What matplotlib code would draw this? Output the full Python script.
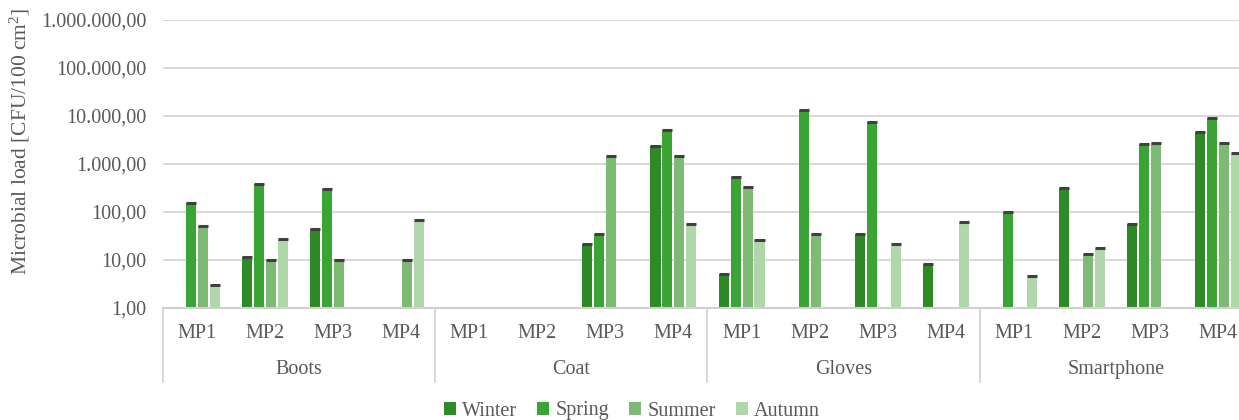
import numpy as np
import matplotlib
matplotlib.use("Agg")
import matplotlib.pyplot as plt
from matplotlib.ticker import FuncFormatter, FixedLocator, NullLocator
import matplotlib.transforms as mtransforms

# Data: microbial load per item, measuring point and season (nan = not detected)
items = ["Boots", "Coat", "Gloves", "Smartphone"]
points = ["MP1", "MP2", "MP3", "MP4"]
seasons = ["Winter", "Spring", "Summer", "Autumn"]
nan = np.nan

winter = [nan, 11.5, 45, nan,     nan, nan, 21.5, 2400,    5.1, nan, 35, 8.3,      nan, 315, 56, 4600]
spring = [155, 380, 300, nan,     nan, nan, 35, 5000,      540, 13200, 7500, nan,  100, nan, 2600, 9000]
summer = [51, 10, 10, 10,         nan, nan, 1480, 1480,    330, 35, nan, nan,      nan, 13.3, 2750, 2750]
autumn = [3.0, 27, nan, 68,       nan, nan, nan, 56,       26, nan, 21.5, 62,      4.6, 18, nan, 1720]

series = [winter, spring, summer, autumn]
colors = ["#2d8a27", "#3aa434", "#7dbb75", "#b0d7a9"]

plt.rcParams["font.family"] = ["Liberation Serif", "DejaVu Serif"]
plt.rcParams["mathtext.fontset"] = "custom"
plt.rcParams["mathtext.rm"] = "Liberation Serif"
text_color = "#595959"
fs = 14.5

fig = plt.figure(figsize=(12.39, 4.2), dpi=100)
ax = fig.add_axes([163 / 1239, 1 - 308 / 420, (1252 - 163) / 1239, (308 - 20) / 420])

n = len(items) * len(points)
x = np.arange(n)
width = 0.147
step = 0.176
offsets = (np.arange(4) - 1.5) * step

for vals, off, col, name in zip(series, offsets, colors, seasons):
    v = np.array(vals, dtype=float)
    m = ~np.isnan(v)
    ax.bar(x[m] + off, v[m] - 1, bottom=1, width=width, color=col, label=name, zorder=2)
    ax.hlines(v[m], x[m] + off - width / 2, x[m] + off + width / 2,
              color="#404040", lw=2.2, zorder=3)

ax.set_yscale("log")
ax.set_ylim(1, 1e6)
ax.set_xlim(-0.5, n - 0.5)


def eu_fmt(val, pos):
    s = f"{val:,.2f}"
    return s.replace(",", "X").replace(".", ",").replace("X", ".")


ax.yaxis.set_major_locator(FixedLocator([10.0 ** k for k in range(7)]))
ax.yaxis.set_minor_locator(NullLocator())
ax.yaxis.set_major_formatter(FuncFormatter(eu_fmt))
ax.tick_params(axis="y", length=0, pad=12, labelsize=fs, labelcolor=text_color)
ax.tick_params(axis="x", length=0, labelbottom=False)
ax.set_xticks([])

ax.grid(axis="y", color="#d9d9d9", lw=1.5, zorder=0)
for side in ["top", "right", "left"]:
    ax.spines[side].set_visible(False)
ax.spines["bottom"].set_color("#d0d0d0")
ax.spines["bottom"].set_linewidth(1.5)

fig.text(20 / 1239, 1 - 141 / 420, r"Microbial load [CFU/100 cm$\mathregular{^{2}}$]",
         rotation=90, ha="center", va="center", fontsize=15.5, color=text_color)

# Two-level category axis
trans = mtransforms.blended_transform_factory(ax.transData, ax.transAxes)
for i in range(n):
    ax.text(x[i], -0.087, points[i % 4], transform=trans, ha="center", va="center",
            fontsize=fs, color=text_color)
for g, item in enumerate(items):
    ax.text(g * 4 + 1.5, -0.215, item, transform=trans, ha="center", va="center",
            fontsize=fs, color=text_color)
for b in range(len(items) + 1):
    ax.plot([b * 4 - 0.5, b * 4 - 0.5], [0, -0.257], transform=trans, color="#d0d0d0",
            lw=1.2, clip_on=False)

leg = fig.legend(loc="center", bbox_to_anchor=(0.51, 1 - 411 / 420), ncol=4, frameon=False,
                 fontsize=fs, handlelength=0.6, handleheight=0.6, handletextpad=0.3,
                 columnspacing=1.0, labelcolor=text_color)

fig.savefig("out.png", dpi=100)
